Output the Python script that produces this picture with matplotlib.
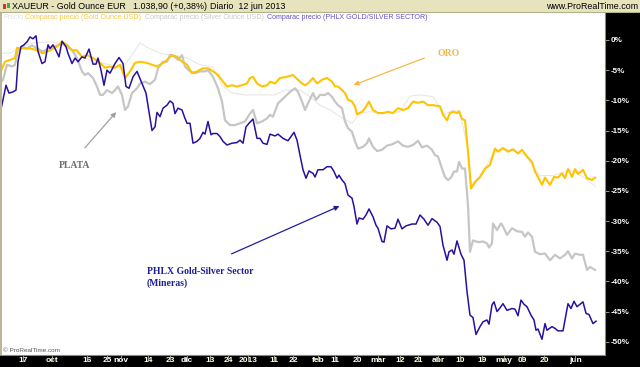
import matplotlib
matplotlib.use("Agg")
import matplotlib.pyplot as plt
from matplotlib.patches import Rectangle
from matplotlib.lines import Line2D

# ---------------- data (time index along trading axis, % change) ----------------
gold_t = [0,5,10,15,17,23,30,37,43,50,57,62,67,72,77,82,87,93,100,105,110,115,120,125,130,135,140,147,152,157,165,172,177,182,187,192,197,203,208,213,218,223,227,232,237,242,247,250,253,257,262,267,270,275,280,287,293,298,302,305,308,313,317,322,327,332,335,338,342,345,348,352,355,357,362,365,369,373,378,383,388,393,398,403,408,413,418,423,428,433,440,443,447,450,453,457,459,462,465,468,471,475,480,485,490,492,495,498,503,508,513,518,522,527,532,535,538,542,545,550,554,558,562,565,568,572,575,578,583,587,592,595]
gold_pct = [-5.5,-3.6,-3.3,-3.0,-1.3,-1.4,-1.4,-1.7,-2.2,-1.7,-1.1,-0.3,-0.8,-1.7,-1.7,-2.8,-2.5,-3.0,-3.8,-4.6,-4.4,-4.6,-4.1,-6.3,-5.2,-3.8,-3.6,-3.8,-4.1,-4.4,-3.6,-2.5,-2.8,-3.6,-4.1,-5.5,-5.2,-4.7,-4.7,-5.2,-5.8,-6.9,-7.7,-7.5,-7.7,-7.5,-7.2,-6.3,-6.1,-7.2,-7.7,-7.5,-6.9,-7.2,-6.3,-6.1,-5.8,-6.6,-7.2,-7.5,-7.2,-6.3,-7.2,-6.6,-6.3,-6.9,-7.7,-7.7,-8.3,-8.8,-9.9,-10.2,-11.0,-12.3,-11.9,-11.3,-10.2,-11.6,-12.1,-12.1,-11.9,-12.1,-11.3,-11.6,-11.3,-10.2,-10.4,-10.2,-10.8,-10.8,-11.0,-12.4,-13.3,-12.1,-11.9,-12.1,-11.8,-13.1,-13.3,-18.5,-24.6,-23.5,-22.7,-21.3,-20.7,-19.6,-18.0,-18.5,-17.9,-18.5,-18.1,-18.8,-18.2,-19.3,-20.2,-21.8,-22.7,-24.0,-22.8,-24.0,-22.7,-22.8,-22.1,-22.9,-21.4,-22.7,-21.4,-22.2,-21.5,-22.9,-23.2,-22.8]

silver_t = [0,3,7,12,15,18,22,27,32,37,43,48,55,62,67,72,77,82,85,88,93,97,100,103,107,112,115,118,122,125,128,132,137,140,145,150,155,158,163,167,170,175,178,182,185,190,195,200,205,208,213,218,222,225,230,235,240,245,250,253,257,262,267,270,273,278,283,290,295,298,302,305,308,313,316,320,325,328,332,335,338,342,345,348,352,355,358,363,367,369,373,377,382,387,392,398,403,408,413,418,422,427,432,435,438,442,445,448,451,454,457,459,462,465,468,470,473,478,483,487,489,492,493,497,501,503,507,512,517,522,525,528,532,535,540,545,550,555,560,565,568,572,575,580,583,587,590,595]
silver_pct = [-7.2,-6.6,-4.1,-4.4,-4.1,-1.7,-1.1,-1.4,-0.9,-1.4,-1.9,-1.4,-1.1,-0.6,-1.1,-1.7,-3.0,-5.2,-5.8,-5.5,-6.3,-7.7,-9.1,-9.1,-8.3,-8.8,-8.3,-7.7,-9.1,-11.6,-11.0,-8.8,-8.0,-7.2,-6.9,-7.3,-6.6,-4.7,-3.6,-3.6,-2.5,-2.8,-3.3,-2.5,-4.4,-5.2,-5.5,-5.2,-5.2,-5.0,-6.1,-8.0,-10.2,-13.3,-14.1,-14.1,-13.8,-13.5,-12.2,-11.6,-13.8,-13.5,-13.0,-12.4,-12.7,-10.5,-9.7,-8.6,-8.0,-8.6,-10.2,-11.6,-10.5,-8.8,-9.9,-9.1,-9.1,-8.8,-9.4,-10.2,-10.8,-11.3,-13.5,-14.6,-15.2,-16.8,-18.0,-17.7,-17.1,-16.3,-17.7,-18.4,-18.2,-17.5,-17.3,-16.8,-17.5,-17.7,-17.4,-16.7,-17.8,-17.5,-18.2,-19.1,-19.3,-21.3,-22.7,-23.2,-22.8,-21.8,-21.8,-20.2,-21.3,-21.3,-27.4,-35.1,-33.2,-33.5,-33.4,-33.7,-34.4,-33.7,-30.4,-31.5,-30.4,-30.9,-32.3,-31.2,-31.7,-31.8,-32.6,-31.9,-32.6,-35.1,-35.5,-35.4,-36.5,-35.6,-36.2,-35.6,-35.0,-36.2,-35.4,-35.6,-35.6,-38.1,-37.6,-38.1]

phlx_t = [0,3,6,9,13,16,18,21,24,27,30,33,36,38,42,45,48,50,53,55,59,62,66,68,72,75,78,82,85,89,93,96,98,101,104,107,110,115,119,123,126,129,133,137,142,146,149,152,155,157,160,163,167,170,173,175,178,182,185,187,190,193,197,200,203,205,208,211,213,217,220,223,227,232,237,240,243,246,249,253,257,260,263,267,270,275,278,283,288,294,297,300,303,306,309,313,315,318,323,327,331,334,337,339,342,345,348,352,354,357,359,363,366,369,373,376,378,382,384,387,391,395,398,402,406,412,416,420,424,428,432,437,440,443,447,449,452,454,457,461,464,467,470,473,476,480,483,487,489,492,494,497,500,503,507,512,515,518,521,524,527,531,534,536,538,542,545,547,552,555,558,563,565,568,571,574,577,580,583,586,589,593,596]
phlx_pct = [-12.2,-9.9,-7.5,-8.8,-8.6,-8.3,-3.6,-1.1,-0.8,-0.3,0.5,0.2,0.7,-1.9,-3.9,-3.6,-0.8,-1.4,-0.8,-1.4,-2.8,-0.2,-1.1,-2.2,-3.9,-3.0,-3.6,-2.8,-3.0,-1.5,-4.0,-4.0,-3.0,-5.0,-7.5,-5.0,-5.5,-3.9,-2.9,-3.9,-7.7,-8.0,-6.1,-5.2,-7.2,-8.8,-11.9,-15.0,-14.4,-12.0,-12.7,-11.3,-10.8,-10.1,-10.5,-12.2,-11.3,-11.6,-13.0,-13.8,-13.8,-17.1,-16.8,-16.3,-15.3,-15.6,-13.5,-15.7,-15.5,-15.5,-16.0,-16.8,-17.4,-17.1,-17.0,-16.6,-17.1,-14.4,-13.8,-13.1,-16.3,-16.3,-17.1,-17.3,-15.6,-15.9,-15.6,-16.3,-16.7,-15.3,-16.6,-19.1,-21.5,-22.9,-21.7,-22.1,-22.7,-21.5,-21.5,-21.0,-21.0,-21.8,-22.9,-22.4,-23.2,-23.8,-25.7,-26.2,-27.6,-30.5,-29.5,-29.7,-29.0,-28.0,-29.3,-30.7,-31.2,-33.4,-33.5,-30.8,-31.3,-31.2,-29.7,-31.3,-30.8,-30.5,-30.5,-29.0,-29.7,-30.7,-29.6,-30.2,-30.9,-34.0,-36.5,-35.1,-34.8,-35.5,-33.3,-35.5,-36.5,-41.7,-45.6,-46.0,-48.8,-47.5,-46.7,-46.4,-47.1,-43.9,-43.4,-45.0,-44.4,-43.7,-44.8,-44.5,-44.6,-45.7,-43.1,-43.8,-44.2,-45.6,-46.4,-48.1,-47.9,-49.6,-47.0,-48.1,-47.5,-47.8,-48.2,-48.2,-46.4,-43.7,-44.5,-43.3,-44.2,-43.8,-43.4,-45.3,-45.5,-47.0,-46.6]

price_t = [0,10,20,33,50,63,80,93,110,123,133,140,147,160,173,187,200,213,222,232,245,260,275,285,300,310,320,330,342,352,360,370,385,400,410,420,433,445,452,460,468,472,480,495,510,525,540,555,570,585,595]
price_pct = [-2.2,-2.2,-1.2,-0.5,-0.3,-0.8,-2.5,-3.6,-4.1,-4.6,-2.2,-0.5,-1.2,-2.2,-2.5,-3.0,-4.1,-4.5,-7.5,-8.8,-9.1,-9.1,-9.1,-8.3,-8.3,-9.4,-10.8,-11.6,-12.9,-13.8,-12.1,-11.9,-12.1,-11.9,-9.3,-9.1,-9.4,-12.4,-11.6,-11.9,-18.2,-24.5,-22.9,-18.2,-18.2,-19.1,-22.5,-22.4,-21.5,-22.9,-24.2]

xtick_pos = [23,52,87,107,121,148,170,187,210,228,248,274,293,318,335,357,378,400,418,438,460,482,504,522,544,575]
xtick_lbl = ['17','oct','16','25','nov','14','23','dic','13','24','2013','11','22','feb','11','20','mar','12','21','abr','10','19','may','09','20','jun']
ytick_vals = [0,-5,-10,-15,-20,-25,-30,-35,-40,-45,-50]

# ---------------- figure ----------------
W, H = 640, 367
plt.rcParams['font.family'] = ['Liberation Sans', 'DejaVu Sans']
fig = plt.figure(figsize=(6.4, 3.67), dpi=100)
fig.patch.set_facecolor('white')

def fr(x0, y0, x1, y1, **kw):
    fig.add_artist(Rectangle((x0/W, 1-y1/H), (x1-x0)/W, (y1-y0)/H,
                             transform=fig.transFigure, **kw))

TAN = '#E6E3BD'
fr(0, 0, W, 12, facecolor=TAN, edgecolor='none', zorder=0)
fig.add_artist(Line2D([0, 1], [1-12/H, 1-12/H], color='#B5B18A', lw=0.8, transform=fig.transFigure))
fr(605, 12.5, W, H, facecolor='black', edgecolor='none', zorder=0)
fr(0, 354.5, W, H, facecolor='black', edgecolor='none', zorder=0)
fr(0, 12, 2, 355, facecolor='#B9B69A', edgecolor='none', zorder=0)
fig.add_artist(Line2D([605/W, 605/W], [1-355/H, 1-12.5/H], color='#8E8B6C', lw=0.8, transform=fig.transFigure))
fig.add_artist(Line2D([0, 605/W], [1-354.5/H, 1-354.5/H], color='#8E8B6C', lw=0.8, transform=fig.transFigure))

# candle icon
fr(3, 4, 6, 9, facecolor='#D9342B', edgecolor='none', zorder=2)
fr(7, 3, 10, 8, facecolor='#3CB043', edgecolor='none', zorder=2)

# header text
hdr = dict(fontsize=6.4, color='black', va='center')
fig.text(12/W, 1-6.3/H, 'XAUEUR - Gold Ounce EUR', ha='left', **hdr)
fig.text(133/W, 1-6.3/H, '1.038,90 (+0,38%)', ha='left', **hdr)
fig.text(210/W, 1-6.3/H, 'Diario  12 jun 2013', ha='left', **hdr)
fig.text(638/W, 1-6.3/H, 'www.ProRealTime.com', ha='right', **hdr)

# main axes
L, R, T, B = 2, 605, 12.5, 354.5
ax = fig.add_axes([L/W, 1-B/H, (R-L)/W, (B-T)/H])
ax.set_facecolor('white')
px_per_pct = 6.034
ax.set_xlim(2, 605)
ax.set_ylim(-(B-40)/px_per_pct, (40-T)/px_per_pct)
for s in ax.spines.values():
    s.set_visible(False)

ax.plot(price_t, price_pct, color='#E4E4E4', lw=0.7, zorder=1)
ax.plot(silver_t, silver_pct, color='#C6C6C6', lw=1.6, zorder=2)
ax.plot(gold_t, gold_pct, color='#FFC400', lw=1.5, zorder=3)
ax.plot(phlx_t, phlx_pct, color='#2B0F9E', lw=1.1, zorder=4)

ax.yaxis.tick_right()
ax.set_yticks(ytick_vals)
ax.set_yticklabels([f'{v}%' for v in ytick_vals])
ax.tick_params(axis='y', direction='out', length=3, width=0.6, color='#B5B18A', pad=1,
               labelsize=5.8, labelcolor='white')
ax.set_xticks(xtick_pos)
ax.set_xticklabels(xtick_lbl)
ax.tick_params(axis='x', direction='in', length=0, pad=2.0, labelsize=6.0, labelcolor='white')
for lab in ax.get_xticklabels():
    lab.set_fontweight('bold')
for lab in ax.get_yticklabels():
    lab.set_fontweight('bold')
for xp in xtick_pos:
    ax.plot([xp, xp], [0, -0.02], transform=ax.get_xaxis_transform(), color='#B5B18A',
            lw=0.6, clip_on=False, zorder=5)

# legend row
leg_y = 1 - 17.5/H
items = [('Precio', '#E2E2E2', 3), ('Comparac precio (Gold Ounce USD)', '#F7C948', 25),
         ('Comparac precio (Silver Ounce USD)', '#C8C8C8', 145),
         ('Comparac precio (PHLX GOLD/SILVER SECTOR)', '#6650C8', 267)]
for txt, col, x in items:
    fig.text(x/W, leg_y, txt, fontsize=5.1, color=col, va='center', ha='left')

fig.text(3/W, 1-350.5/H, '\u00a9 ProRealTime.com', fontsize=4.6, color='#555555', va='center', ha='left')

# annotations
serif = ['Liberation Serif', 'DejaVu Serif']
ax.annotate('', xy=(351, -(86-40)/px_per_pct), xytext=(427, -(57-40)/px_per_pct),
            arrowprops=dict(arrowstyle='-|>', color='#F7B84B', lw=0.9, mutation_scale=7))
ax.text(438, -(53-40)/px_per_pct, 'ORO', color='#F7B84B', fontsize=7, fontweight='bold',
        family=serif, va='center', ha='left')
ax.annotate('', xy=(118, -(110-40)/px_per_pct), xytext=(83, -(150-40)/px_per_pct),
            arrowprops=dict(arrowstyle='-|>', color='#A0A0A0', lw=0.9, mutation_scale=7))
ax.text(59, -(165-40)/px_per_pct, 'PLATA', color='#6E6E6E', fontsize=7, fontweight='bold',
        family=serif, va='center', ha='left')
ax.annotate('', xy=(342, -(205-40)/px_per_pct), xytext=(229, -(255-40)/px_per_pct),
            arrowprops=dict(arrowstyle='-|>', color='#1E1EA0', lw=0.9, mutation_scale=7))
ax.text(147, -(272-40)/px_per_pct, 'PHLX Gold-Silver Sector', color='#1E1E9A', fontsize=7,
        fontweight='bold', family=serif, va='center', ha='left')
ax.text(147, -(283-40)/px_per_pct, '(Mineras)', color='#1E1E9A', fontsize=7,
        fontweight='bold', family=serif, va='center', ha='left')

fig.savefig('out.png', dpi=100, facecolor='white')
